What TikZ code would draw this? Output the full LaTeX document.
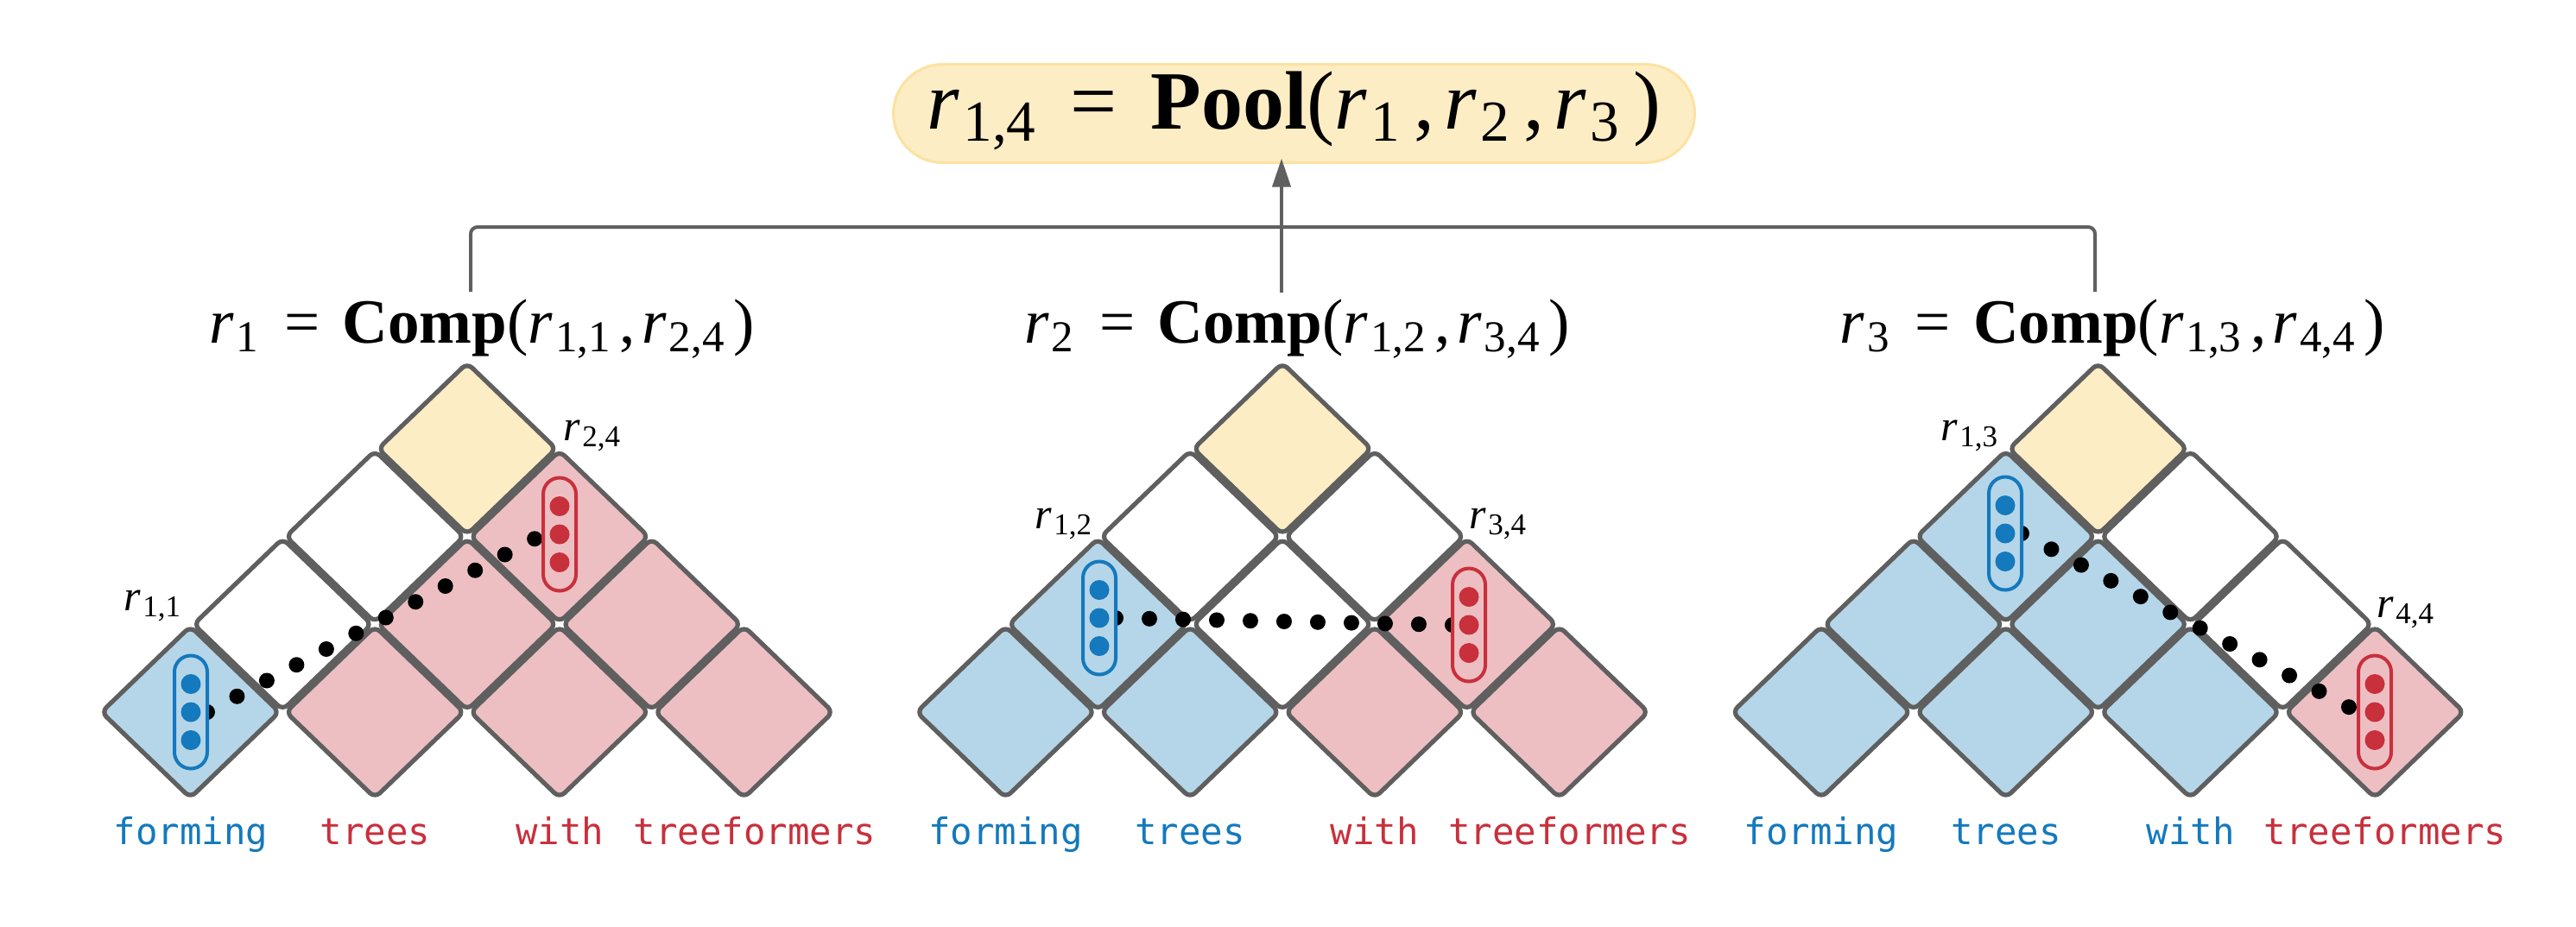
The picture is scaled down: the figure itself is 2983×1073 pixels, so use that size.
\documentclass[tikz,border=0pt]{standalone}
\usepackage{fontspec}
\setmainfont{Liberation Serif}
\setmonofont{DejaVu Sans Mono}
\usetikzlibrary{arrows.meta}
\pgfdeclarelayer{back}
\pgfdeclarelayer{mid}
\pgfsetlayers{back,mid,main}
\definecolor{cellline}{HTML}{5F5F5F}
\definecolor{cblue}{HTML}{B5D6E8}
\definecolor{cpink}{HTML}{EDBFC3}
\definecolor{cyel}{HTML}{FDEDC4}
\definecolor{dblue}{HTML}{1479BD}
\definecolor{dred}{HTML}{C8303C}
\definecolor{boxline}{HTML}{FCE2A2}
\definecolor{connc}{HTML}{606060}
\newcommand\rsub[1]{\textit{r}\kern0.04em\textsubscript{#1}}
\newcommand\cell[4]{%
  \pgfmathsetmacro\cxx{#1+((#2+#3)/2-2.5)*213.7}%
  \pgfmathsetmacro\cyy{825-(#3-#2)*101.7}%
  \draw[cellst,fill=#4] (\cxx-51.5,\cyy-49.65) -- (\cxx,\cyy-99.3) -- (\cxx+103,\cyy) -- (\cxx,\cyy+99.3) -- (\cxx-103,\cyy) -- cycle;}
\newcommand\pill[5]{%
  \node[pillst, draw=#5, fill=#4] (#1) at (#2,#3) {};
  \foreach \dy in {-8.125pt,0pt,8.125pt} \fill[#5] ([yshift=\dy]#1.center) circle (2.875pt);}
\tikzset{
  cellst/.style={draw=cellline, line width=1.3pt, rounded corners=2pt},
  pillst/.style={line width=1pt, rounded corners=4.75pt, minimum width=9.5pt, minimum height=32.75pt, inner sep=0pt, outer sep=0pt},
  dotln/.style={line width=4.5pt, line cap=round, dash pattern=on 0pt off 9.75pt, black},
  conn/.style={draw=connc, line width=1pt},
  titlebox/.style={draw=boxline, line width=0.75pt, fill=cyel, rounded corners=14.25pt, minimum width=232pt, minimum height=28.5pt, inner sep=0pt, text height=17pt, text depth=8.25pt, font=\fontsize{24pt}{28pt}\selectfont},
  complab/.style={inner sep=0pt, anchor=base west, font=\fontsize{18.25pt}{22pt}\selectfont},
  celllab/.style={inner sep=0pt, font=\fontsize{12.5pt}{15pt}\selectfont},
  word/.style={inner sep=0pt, anchor=base, font=\fontsize{10.6pt}{12pt}\ttfamily}
}
\begin{document}
\begin{tikzpicture}[x=0.25pt, y=-0.25pt]
\useasboundingbox (0,0) rectangle (2983,1073);

% title
\node[titlebox] (title) at (1498.5,131.5) {\rsub{1,4}\hspace{0.4em}=\hspace{0.4em}\textbf{Pool}(\rsub{1}\kern0.15em,\hspace{0.12em}\rsub{2}\kern0.15em,\hspace{0.12em}\rsub{3}\kern0.15em)};

% composition labels
\node[complab] (lab1) at (241.6,397) {\rsub{1}\hspace{0.38em}=\hspace{0.36em}\textbf{Comp}(\rsub{1,1}\kern0.12em,\hspace{0.1em}\rsub{2,4}\kern0.12em)};
\node[complab] (lab2) at (1185.6,397) {\rsub{2}\hspace{0.38em}=\hspace{0.36em}\textbf{Comp}(\rsub{1,2}\kern0.12em,\hspace{0.1em}\rsub{3,4}\kern0.12em)};
\node[complab] (lab3) at (2130,397) {\rsub{3}\hspace{0.38em}=\hspace{0.36em}\textbf{Comp}(\rsub{1,3}\kern0.12em,\hspace{0.1em}\rsub{4,4}\kern0.12em)};

% connectors
\coordinate (t1) at (545,338);
\coordinate (t2) at (1484,339);
\coordinate (t3) at (2426,338);
\coordinate (hm) at (1484,263);
\draw[conn, rounded corners=2pt] (t1) |- (hm) -| (t3);
\draw[conn, -{Triangle[length=8.25pt,width=5.25pt]}] (t2) -- ([yshift=1.6pt]t2 |- title.south);

% charts
\begin{pgfonlayer}{back}
% chart 1
\cell{541}{1}{1}{cblue}\cell{541}{2}{2}{cpink}\cell{541}{3}{3}{cpink}\cell{541}{4}{4}{cpink}
\cell{541}{1}{2}{white}\cell{541}{2}{3}{cpink}\cell{541}{3}{4}{cpink}
\cell{541}{1}{3}{white}\cell{541}{2}{4}{cpink}
\cell{541}{1}{4}{cyel}
% chart 2
\cell{1485}{1}{1}{cblue}\cell{1485}{2}{2}{cblue}\cell{1485}{3}{3}{cpink}\cell{1485}{4}{4}{cpink}
\cell{1485}{1}{2}{cblue}\cell{1485}{2}{3}{white}\cell{1485}{3}{4}{cpink}
\cell{1485}{1}{3}{white}\cell{1485}{2}{4}{white}
\cell{1485}{1}{4}{cyel}
% chart 3
\cell{2429.6}{1}{1}{cblue}\cell{2429.6}{2}{2}{cblue}\cell{2429.6}{3}{3}{cblue}\cell{2429.6}{4}{4}{cpink}
\cell{2429.6}{1}{2}{cblue}\cell{2429.6}{2}{3}{cblue}\cell{2429.6}{3}{4}{white}
\cell{2429.6}{1}{3}{cblue}\cell{2429.6}{2}{4}{white}
\cell{2429.6}{1}{4}{cyel}
\end{pgfonlayer}

% pills
\pill{pa1}{221}{825}{cblue}{dblue}
\pill{pb1}{648}{619}{cpink}{dred}
\pill{pa2}{1273}{716}{cblue}{dblue}
\pill{pb2}{1701}{724}{cpink}{dred}
\pill{pa3}{2322}{618}{cblue}{dblue}
\pill{pb3}{2750}{825}{cpink}{dred}

% dotted links
\begin{pgfonlayer}{mid}
\draw[dotln] (pa1.east) -- (pb1.west);
\draw[dotln] (pa2.east) -- (pb2.west);
\draw[dotln] (pa3.east) -- (pb3.west);
\end{pgfonlayer}

% cell labels
\node[celllab, anchor=base east] (r11) at (212,707) {\rsub{1,1}};
\node[celllab, anchor=base west] (r24) at (652,510) {\rsub{2,4}};
\node[celllab, anchor=base east] (r12) at (1267,612) {\rsub{1,2}};
\node[celllab, anchor=base west] (r34) at (1701,612) {\rsub{3,4}};
\node[celllab, anchor=base east] (r13) at (2316,510) {\rsub{1,3}};
\node[celllab, anchor=base west] (r44) at (2752,715) {\rsub{4,4}};

% words
\node[word, text=dblue] (wa1) at (221,978) {forming};
\node[word, text=dred]  (wb1) at (434.7,978) {trees};
\node[word, text=dred]  (wc1) at (648.4,978) {with};
\node[word, text=dred]  (wd1) at (874,978) {treeformers};
\node[word, text=dblue] (wa2) at (1164.5,978) {forming};
\node[word, text=dblue] (wb2) at (1378.2,978) {trees};
\node[word, text=dred]  (wc2) at (1591.9,978) {with};
\node[word, text=dred]  (wd2) at (1817.5,978) {treeformers};
\node[word, text=dblue] (wa3) at (2109.1,978) {forming};
\node[word, text=dblue] (wb3) at (2322.8,978) {trees};
\node[word, text=dblue] (wc3) at (2536.5,978) {with};
\node[word, text=dred]  (wd3) at (2762,978) {treeformers};
\end{tikzpicture}
\end{document}
